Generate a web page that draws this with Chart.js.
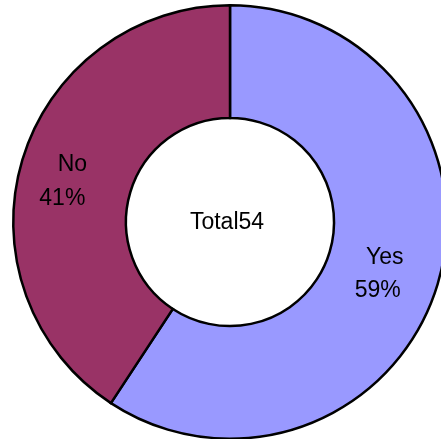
<!DOCTYPE html>
<html>
<head>
<meta charset="utf-8">
<script src="https://cdn.jsdelivr.net/npm/chart.js@4/dist/chart.umd.min.js"></script>
<style>
html,body{margin:0;padding:0;background:#fff;overflow:hidden;width:441px;height:439px;}
#wrap{position:absolute;left:0;top:-8px;width:460px;height:460px;}
</style>
</head>
<body>
<div id="wrap"><canvas id="chart" width="460" height="460"></canvas></div>
<script>
var categories = ['Yes', 'No'];
var counts = [32, 22];
var percentLabels = ['59%', '41%'];
var totalLabel = 'Total54';

// 조각 위에 이름과 퍼센트 표시 (tooltipPosition 기준으로 약간 이동)
var nameShift = [[1, -10], [-4, -11]];
var pctShift = [[-6, 23], [-14, 23]];

var sliceLabels = {
	id: 'sliceLabels',
	afterDatasetsDraw: function(chart) {
		var ctx = chart.ctx;
		var meta = chart.getDatasetMeta(0);
		ctx.save();
		ctx.fillStyle = '#000';
		ctx.font = '23px "Liberation Sans", Arial, sans-serif';
		ctx.textAlign = 'center';
		ctx.textBaseline = 'middle';
		meta.data.forEach(function(arc, i) {
			var p = arc.tooltipPosition();
			ctx.fillText(categories[i], p.x + nameShift[i][0], p.y + nameShift[i][1]);
			ctx.fillText(percentLabels[i], p.x + pctShift[i][0], p.y + pctShift[i][1]);
		});
		var c = meta.data[0];
		ctx.fillText(totalLabel, c.x - 3, c.y + 1);
		ctx.restore();
	}
};

var myChart = new Chart(document.getElementById('chart'), {
	type: 'doughnut',
	data: {
		labels: categories,
		datasets: [{
			data: counts,
			backgroundColor: ['#9999FF', '#993366'],
			borderColor: '#000',
			borderWidth: 2.5,
			borderJoinStyle: 'miter',
			borderAlign: 'center'
		}]
	},
	options: {
		responsive: false,
		animation: false,
		cutout: '48%',
		layout: { padding: 12 },
		plugins: {
			legend: { display: false },
			tooltip: { enabled: false }
		}
	},
	plugins: [sliceLabels]
});
</script>
</body>
</html>
